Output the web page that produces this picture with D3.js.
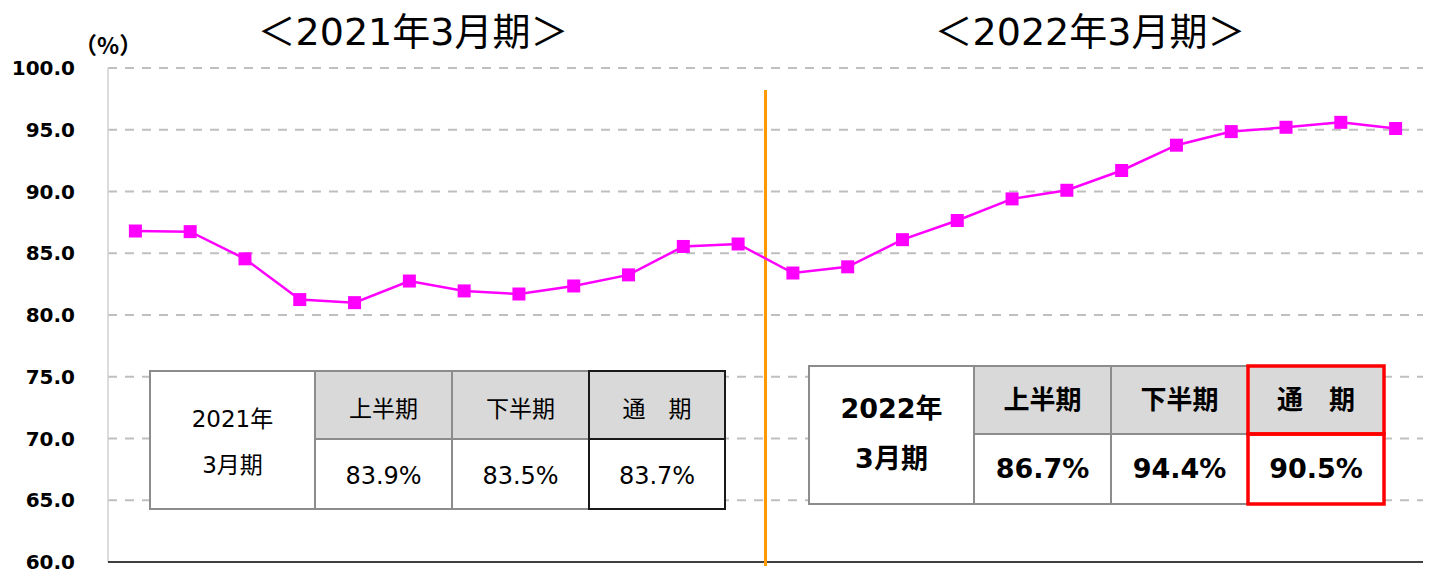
<!DOCTYPE html>
<html>
<head>
<meta charset="utf-8">
<script src="https://cdn.jsdelivr.net/npm/d3@7"></script>
<style>
  body { margin: 0; background: white; }
  text { font-family: "DejaVu Sans", "Noto Sans CJK JP", sans-serif; }
</style>
</head>
<body>
<div id="container"></div>
<script>
// monthly rate (%) : Apr 2020 .. Mar 2022
let values2021 = [86.8, 86.75, 84.55, 81.25, 81.0, 82.75, 81.95, 81.7, 82.35, 83.25, 85.55, 85.75];
let values2022 = [83.4, 83.9, 86.1, 87.65, 89.4, 90.1, 91.7, 93.75, 94.85, 95.2, 95.6, 95.1];
let yTicks = [60, 65, 70, 75, 80, 85, 90, 95, 100];
let periodTitles = ["＜2021年3月期＞", "＜2022年3月期＞"];
let tableHeaders = ["上半期", "下半期", "通　期"];
let table2021 = ["83.9%", "83.5%", "83.7%"];
let table2022 = ["86.7%", "94.4%", "90.5%"];
let tableLabels = [["2021年", "3月期"], ["2022年", "3月期"]];

let w = 1431;
let h = 569;
let plotLeft = 108, plotRight = 1423, plotTop = 68, plotBottom = 562;

let allValues = values2021.concat(values2022);

let viz = d3.select("#container").append("svg")
    .attr("width", w)
    .attr("height", h)
    .style("background-color", "white");

let xScale = d3.scalePoint().domain(d3.range(allValues.length)).range([plotLeft, plotRight]).padding(0.5);
let yScale = d3.scaleLinear().domain([60, 100]).range([plotBottom, plotTop]);

// gridlines
viz.selectAll(".grid").data(yTicks.filter(d => d > 60)).enter()
    .append("line")
    .attr("class", "grid")
    .attr("x1", plotLeft).attr("x2", plotRight)
    .attr("y1", d => yScale(d)).attr("y2", d => yScale(d))
    .attr("stroke", "#bfbfbf")
    .attr("stroke-width", 2)
    .attr("stroke-dasharray", "9,8");

// axes lines
viz.append("line")
    .attr("x1", plotLeft).attr("x2", plotLeft)
    .attr("y1", plotTop).attr("y2", plotBottom)
    .attr("stroke", "#d0d0d0").attr("stroke-width", 1.5);
viz.append("line")
    .attr("x1", plotLeft).attr("x2", plotRight)
    .attr("y1", plotBottom).attr("y2", plotBottom)
    .attr("stroke", "black").attr("stroke-width", 1.5);

// tick labels
viz.selectAll(".ytick").data(yTicks).enter()
    .append("text")
    .attr("class", "ytick")
    .text(d => d.toFixed(1))
    .attr("x", 75)
    .attr("y", d => yScale(d) + 7)
    .attr("text-anchor", "end")
    .attr("font-size", 20)
    .attr("font-weight", "bold");

viz.append("text")
    .text("（%）")
    .attr("x", 74)
    .attr("y", 54)
    .attr("font-size", 23)
    .attr("font-weight", "bold")
    .style("font-family", "'Noto Sans CJK JP', sans-serif");

// period titles
let mid = (xScale(11) + xScale(12)) / 2;
viz.selectAll(".ptitle").data(periodTitles).enter()
    .append("text")
    .attr("class", "ptitle")
    .text(d => d)
    .attr("x", (d, i) => i == 0 ? 413 : 1090)
    .attr("y", 45)
    .attr("text-anchor", "middle")
    .attr("font-size", 38);

// tables
function drawTable(x0, y0, label, vals, bold, highlight) {
  let colW = [165, 137, 137, 136];
  let rowH = [68, 70];
  let g = viz.append("g").attr("transform", "translate(" + x0 + "," + y0 + ")");
  let xs = [0];
  colW.forEach((c, i) => xs.push(xs[i] + c));
  let total = xs[4], totalH = rowH[0] + rowH[1];
  // header fills
  for (let i = 1; i < 4; i++) {
    g.append("rect").attr("x", xs[i]).attr("y", 0).attr("width", colW[i]).attr("height", rowH[0])
        .attr("fill", "#d9d9d9");
    g.append("rect").attr("x", xs[i]).attr("y", rowH[0]).attr("width", colW[i]).attr("height", rowH[1])
        .attr("fill", "white");
  }
  g.append("rect").attr("x", 0).attr("y", 0).attr("width", colW[0]).attr("height", totalH).attr("fill", "white");
  // grid lines
  g.append("rect").attr("x", 0).attr("y", 0).attr("width", total).attr("height", totalH)
      .attr("fill", "none").attr("stroke", "#8c8c8c").attr("stroke-width", 2);
  for (let i = 1; i < 4; i++) {
    g.append("line").attr("x1", xs[i]).attr("x2", xs[i]).attr("y1", 0).attr("y2", totalH)
        .attr("stroke", "#8c8c8c").attr("stroke-width", 2);
  }
  g.append("line").attr("x1", xs[1]).attr("x2", total).attr("y1", rowH[0]).attr("y2", rowH[0])
      .attr("stroke", "#8c8c8c").attr("stroke-width", 2);

  let fw = bold ? "bold" : "normal";
  g.selectAll(".lab").data(label).enter().append("text")
      .text(d => d)
      .attr("x", colW[0] / 2)
      .attr("y", (d, i) => i == 0 ? (bold ? 52 : 56) : (bold ? 102 : 102))
      .attr("text-anchor", "middle")
      .attr("font-size", bold ? 27 : 23)
      .attr("font-weight", fw);
  g.selectAll(".hd").data(tableHeaders).enter().append("text")
      .text(d => d)
      .attr("x", (d, i) => xs[i + 1] + colW[i + 1] / 2)
      .attr("y", bold ? 43 : 46)
      .attr("text-anchor", "middle")
      .attr("font-size", bold ? 26 : 23)
      .attr("font-weight", fw);
  g.selectAll(".val").data(vals).enter().append("text")
      .text(d => d)
      .attr("x", (d, i) => xs[i + 1] + colW[i + 1] / 2)
      .attr("y", rowH[0] + (bold ? 44 : 45))
      .attr("text-anchor", "middle")
      .attr("font-size", bold ? 27 : 24)
      .attr("font-weight", fw);

  // highlight on full-year column
  if (highlight) {
    g.append("rect").attr("x", xs[3]).attr("y", 0).attr("width", colW[3]).attr("height", rowH[0])
        .attr("fill", "none").attr("stroke", "red").attr("stroke-width", 3.5);
    g.append("rect").attr("x", xs[3]).attr("y", rowH[0]).attr("width", colW[3]).attr("height", rowH[1])
        .attr("fill", "none").attr("stroke", "red").attr("stroke-width", 3.5);
  } else {
    g.append("rect").attr("x", xs[3]).attr("y", 0).attr("width", colW[3]).attr("height", rowH[0])
        .attr("fill", "none").attr("stroke", "#1a1a1a").attr("stroke-width", 2);
    g.append("rect").attr("x", xs[3]).attr("y", rowH[0]).attr("width", colW[3]).attr("height", rowH[1])
        .attr("fill", "none").attr("stroke", "#1a1a1a").attr("stroke-width", 2);
  }
}
drawTable(150, 371, tableLabels[0], table2021, false, false);
drawTable(809, 366, tableLabels[1], table2022, true, true);

// divider
viz.append("line")
    .attr("x1", mid).attr("x2", mid)
    .attr("y1", 90).attr("y2", 566)
    .attr("stroke", "#ff9900")
    .attr("stroke-width", 3);

// line + markers
let line = d3.line().x((d, i) => xScale(i)).y(d => yScale(d));
viz.append("path")
    .datum(allValues)
    .attr("d", line)
    .attr("fill", "none")
    .attr("stroke", "#ff00ff")
    .attr("stroke-width", 2.5);

viz.selectAll(".pt").data(allValues).enter()
    .append("rect")
    .attr("class", "pt")
    .attr("x", (d, i) => xScale(i) - 6.5)
    .attr("y", d => yScale(d) - 6.5)
    .attr("width", 13)
    .attr("height", 13)
    .attr("fill", "#ff00ff");
</script>
</body>
</html>
